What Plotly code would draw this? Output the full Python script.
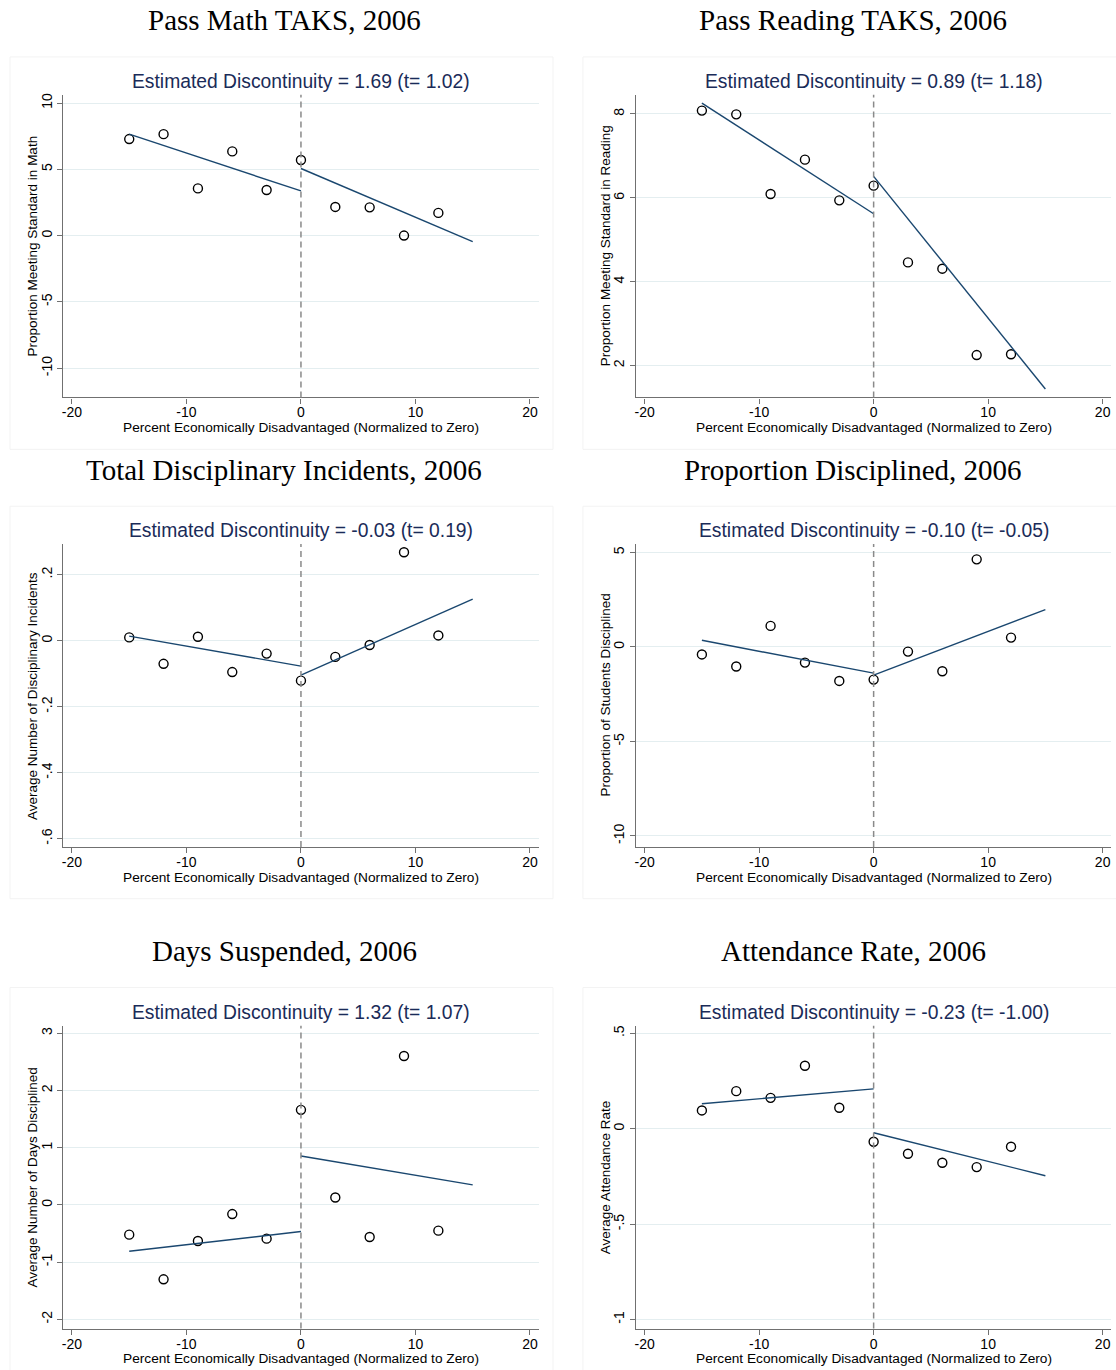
import plotly.graph_objects as go

# ---------------- data ----------------
x_bins = [-15, -12, -9, -6, -3, 0, 3, 6, 9, 12]
fit_left_x = [-15, 0]
fit_right_x = [0, 15]

titles = ["Pass Math TAKS, 2006", "Pass Reading TAKS, 2006",
          "Total Disciplinary Incidents, 2006", "Proportion Disciplined, 2006",
          "Days Suspended, 2006", "Attendance Rate, 2006"]
subtitles = ["Estimated Discontinuity = 1.69 (t= 1.02)",
             "Estimated Discontinuity = 0.89 (t= 1.18)",
             "Estimated Discontinuity = -0.03 (t= 0.19)",
             "Estimated Discontinuity = -0.10 (t= -0.05)",
             "Estimated Discontinuity = 1.32 (t= 1.07)",
             "Estimated Discontinuity = -0.23 (t= -1.00)"]
y_labels = ["Proportion Meeting Standard in Math",
            "Proportion Meeting Standard in Reading",
            "Average Number of Disciplinary Incidents",
            "Proportion of Students Disciplined",
            "Average Number of Days Disciplined",
            "Average Attendance Rate"]
x_label = "Percent Economically Disadvantaged (Normalized to Zero)"

math_vals = [7.28, 7.65, 3.56, 6.35, 3.44, 5.70, 2.16, 2.13, 0.00, 1.71]
math_fit_left = [7.65, 3.37]
math_fit_right = [5.06, -0.45]

read_vals = [8.08, 7.99, 6.09, 6.91, 5.94, 6.29, 4.46, 4.31, 2.25, 2.27]
read_fit_left = [8.26, 5.62]
read_fit_right = [6.51, 1.44]

incid_vals = [0.010, -0.070, 0.012, -0.095, -0.039, -0.121, -0.049, -0.013, 0.268, 0.016]
incid_fit_left = [0.014, -0.077]
incid_fit_right = [-0.104, 0.126]

discp_vals = [-0.40, -1.04, 1.11, -0.83, -1.80, -1.73, -0.25, -1.29, 4.63, 0.49]
discp_fit_left = [0.35, -1.39]
discp_fit_right = [-1.49, 1.97]

days_vals = [-0.52, -1.30, -0.63, -0.16, -0.59, 1.66, 0.13, -0.56, 2.60, -0.45]
days_fit_left = [-0.81, -0.465]
days_fit_right = [0.855, 0.35]

attend_vals = [0.096, 0.197, 0.162, 0.330, 0.110, -0.068, -0.131, -0.178, -0.201, -0.094]
attend_fit_left = [0.131, 0.209]
attend_fit_right = [-0.021, -0.246]

series = [math_vals, read_vals, incid_vals, discp_vals, days_vals, attend_vals]
fits_left = [math_fit_left, read_fit_left, incid_fit_left, discp_fit_left, days_fit_left, attend_fit_left]
fits_right = [math_fit_right, read_fit_right, incid_fit_right, discp_fit_right, days_fit_right, attend_fit_right]

y_ranges = [[-12.21, 10.63], [1.24, 8.46], [-0.625, 0.293],
            [-10.58, 5.44], [-2.16, 3.13], [-1.047, 0.54]]
y_tickvals = [[-10, -5, 0, 5, 10], [2, 4, 6, 8], [-0.6, -0.4, -0.2, 0, 0.2],
              [-10, -5, 0, 5], [-2, -1, 0, 1, 2, 3], [-1, -0.5, 0, 0.5]]
y_ticktext = [["-10", "-5", "0", "5", "10"], ["2", "4", "6", "8"],
              ["-.6", "-.4", "-.2", "0", ".2"], ["-10", "-5", "0", "5"],
              ["-2", "-1", "0", "1", "2", "3"], ["-1", "-.5", "0", ".5"]]
x_tickvals = [-20, -10, 0, 10, 20]
x_ticktext = ["-20", "-10", "0", "10", "20"]

# ---------------- layout geometry (screen pixels of the reference) ----------------
W, H = 1116, 1370
col_px = [(61.5, 537.5), (635.2, 1111.2)]
row_px = [(92.8, 396.0), (542.8, 846.2), (1025.2, 1328.5)]
title_y_px = [18.5, 468.5, 950.5]
sub_y_px = [79.5, 529.5, 1011.5]
xtitle_y_px = [426.5, 876.5, 1358.5]
title_x_px = [283, 853]
box_x_px = [(8, 552), (582, 1130)]
box_y_px = [(55, 448), (505, 898), (987, 1380)]

SANS = "Liberation Sans, Arial, sans-serif"
SERIF = "Liberation Serif, Times New Roman, serif"
LINE_COLOR = "rgb(26,71,111)"
AXIS_COLOR = "#707070"
GRID_COLOR = "#e4eef0"
SUB_COLOR = "#1a2b58"


def px_x(p):
    return p / W


def px_y(p):
    return 1 - p / H


fig = go.Figure()
annotations = []
shapes = []
layout = {}

for i in range(6):
    r, c = divmod(i, 2)
    n = i + 1
    xa = "x" if n == 1 else f"x{n}"
    ya = "y" if n == 1 else f"y{n}"
    xkey = "xaxis" if n == 1 else f"xaxis{n}"
    ykey = "yaxis" if n == 1 else f"yaxis{n}"

    shapes.append(dict(type="rect", xref="paper", yref="paper",
                       x0=px_x(box_x_px[c][0]), x1=px_x(box_x_px[c][1]),
                       y0=px_y(box_y_px[r][1]), y1=px_y(box_y_px[r][0]),
                       line=dict(color="#f3f3f3", width=1), fillcolor="white", layer="below"))

    fig.add_trace(go.Scatter(x=x_bins, y=series[i], mode="markers", xaxis=xa, yaxis=ya,
                             marker=dict(symbol="circle-open", size=9, color="black",
                                         line=dict(width=1.4, color="black")),
                             showlegend=False, hoverinfo="x+y"))
    fig.add_trace(go.Scatter(x=fit_left_x, y=fits_left[i], mode="lines", xaxis=xa, yaxis=ya,
                             line=dict(color=LINE_COLOR, width=1.4), showlegend=False))
    fig.add_trace(go.Scatter(x=fit_right_x, y=fits_right[i], mode="lines", xaxis=xa, yaxis=ya,
                             line=dict(color=LINE_COLOR, width=1.4), showlegend=False))

    layout[xkey] = dict(domain=[px_x(col_px[c][0]), px_x(col_px[c][1])], anchor=ya,
                        range=[-20.75, 20.75], tickvals=x_tickvals, ticktext=x_ticktext,
                        showgrid=False, zeroline=False, showline=True, linecolor=AXIS_COLOR,
                        linewidth=1.3, ticks="outside", ticklen=5, tickcolor=AXIS_COLOR,
                        tickwidth=1.1, ticklabelstandoff=-3,
                        tickfont=dict(family=SANS, size=14, color="black"))
    layout[ykey] = dict(domain=[px_y(row_px[r][1]), px_y(row_px[r][0])], anchor=xa,
                        range=y_ranges[i], tickvals=y_tickvals[i], ticktext=y_ticktext[i],
                        tickangle=-90, showgrid=True, gridcolor=GRID_COLOR, gridwidth=1,
                        zeroline=False, showline=True, linecolor=AXIS_COLOR, linewidth=1.3,
                        ticks="outside", ticklen=5, tickcolor=AXIS_COLOR, tickwidth=1.1,
                        tickfont=dict(family=SANS, size=14, color="black"))

    shapes.append(dict(type="line", xref=xa, yref=f"{ya} domain", x0=0, x1=0, y0=0, y1=1,
                       line=dict(color="#8a8a8a", width=1.5, dash="6px,4px")))

    cx = (col_px[c][0] + col_px[c][1]) / 2
    annotations.append(dict(text=titles[i], xref="paper", yref="paper",
                            x=px_x(title_x_px[c]), y=px_y(title_y_px[r]),
                            xanchor="center", yanchor="middle", showarrow=False,
                            font=dict(family=SERIF, size=29, color="black")))
    annotations.append(dict(text=subtitles[i], xref="paper", yref="paper",
                            x=px_x(cx), y=px_y(sub_y_px[r]),
                            xanchor="center", yanchor="middle", showarrow=False,
                            font=dict(family=SANS, size=19.3, color=SUB_COLOR)))
    annotations.append(dict(text=x_label, xref="paper", yref="paper",
                            x=px_x(cx), y=px_y(xtitle_y_px[r]),
                            xanchor="center", yanchor="middle", showarrow=False,
                            font=dict(family=SANS, size=13.7, color="black")))
    cy = (row_px[r][0] + row_px[r][1]) / 2
    annotations.append(dict(text=y_labels[i], xref="paper", yref="paper",
                            x=px_x(col_px[c][0] - 31), y=px_y(cy), textangle=-90,
                            xanchor="center", yanchor="middle", showarrow=False,
                            font=dict(family=SANS, size=13.5, color="black")))

fig.update_layout(width=W, height=H, margin=dict(l=0, r=0, t=0, b=0),
                  paper_bgcolor="white", plot_bgcolor="white",
                  annotations=annotations, shapes=shapes, **layout)

# remove the page's default body margin so the figure fills the window exactly
fig.write_html("out.html", config={"displayModeBar": False},
               post_script="document.body.style.margin='0';document.body.style.overflow='hidden';")
